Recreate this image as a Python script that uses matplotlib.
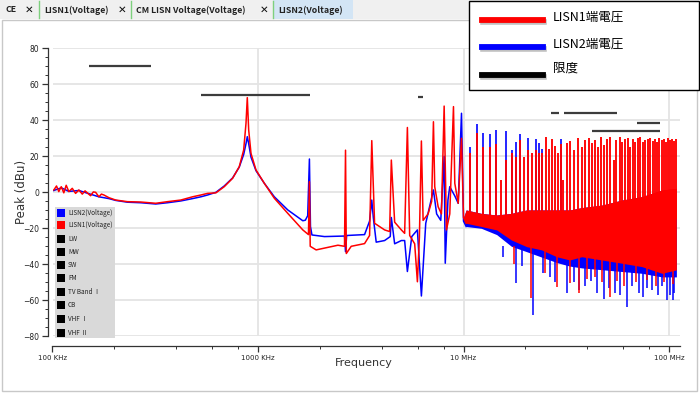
import matplotlib.pyplot as plt
from matplotlib.patches import Rectangle
from matplotlib.lines import Line2D
from matplotlib.ticker import FixedLocator, NullFormatter

# ---- data (frequency in MHz, level in dBu) ----
red_f = [0.1015, 0.1046, 0.1073, 0.1103, 0.1135, 0.1166, 0.1201, 0.1248, 0.1295, 0.1344,
         0.1396, 0.1440, 0.1477, 0.1532, 0.1580, 0.1621, 0.1682, 0.1730, 0.1779, 0.1882,
         0.2029, 0.2314, 0.2688, 0.3180, 0.3627, 0.4211, 0.4803, 0.5272, 0.5683, 0.6240,
         0.6848, 0.7526, 0.8104, 0.8516, 0.8741, 0.8869, 0.9009, 0.9245, 0.9777, 1.0733,
         1.2007, 1.396, 1.652, 1.760, 1.779, 1.795, 1.918, 2.106, 2.448, 2.636,
         2.666, 2.690, 2.842, 3.300, 3.491, 3.578, 3.692, 4.131, 4.370, 4.454,
         4.623, 4.984, 5.171, 5.332, 5.471, 5.786, 5.965, 6.10, 6.238, 6.359,
         6.726, 7.00, 7.139, 7.244, 7.525, 7.809, 8.050, 8.261, 8.573, 8.937,
         9.070, 9.423, 9.777, 10.0, 10.3]
red_db = [1.3, 3.5, 0.4, 3.1, -0.3, 3.9, 0.4, 2.2, -0.6, 1.3,
          -1.0, 0.8, -0.3, -1.9, 0.2, 0.0, -2.5, -1.0, -1.5, -3.0,
          -4.3, -5.2, -5.4, -6.1, -5.2, -4.3, -2.5, -1.5, -0.6, -0.3,
          3.1, 7.8, 14.2, 23.5, 38.3, 52.6, 34.6, 21.6, 12.4, 5.0,
          -3.3, -11.7, -20.9, -23.5, 5.9, -30.0, -32.0, -31.0, -29.4, -30.0,
          23.4, -34.0, -30.0, -28.5, -24.0, 28.7, -17.2, -20.9, -21.8, 17.9,
          -16.6, -20.9, -22.8, 36.0, -24.0, -28.6, -49.7, -25.0, 28.5, -15.6,
          -12.0, -5.0, 39.2, 3.1, -8.0, -12.0, 47.9, -20.9, -12.0, 47.6,
          5.0, -6.1, 30.0, -14.0, -17.2]

blue_f = [0.1015, 0.1103, 0.1201, 0.1344, 0.1477, 0.1682, 0.1882, 0.2029, 0.2314, 0.2688,
          0.3180, 0.3627, 0.4211, 0.4803, 0.5272, 0.5683, 0.6240, 0.6848, 0.7526, 0.8104,
          0.8516, 0.8741, 0.8869, 0.9009, 0.9245, 0.9777, 1.0733, 1.2007, 1.396, 1.652,
          1.700, 1.745, 1.779, 1.800, 1.830, 2.106, 2.636, 2.666, 2.700, 3.300,
          3.491, 3.578, 3.640, 3.760, 4.131, 4.400, 4.454, 4.623, 4.984, 5.171,
          5.332, 5.600, 5.965, 6.238, 6.55, 7.139, 7.40, 7.75, 8.050, 8.15,
          8.40, 8.573, 9.07, 9.423, 9.777, 10.0, 10.3]
blue_db = [1.0, 2.5, 0.5, 1.0, -0.5, -2.5, -3.5, -4.5, -5.5, -5.8,
           -6.5, -5.8, -4.8, -3.5, -2.5, -1.5, 0.0, 3.5, 8.0, 14.0,
           21.0, 27.0, 30.9, 27.0, 19.5, 12.0, 5.0, -2.5, -9.8, -15.8,
           -15.5, -13.0, 18.5, -19.0, -23.7, -24.6, -24.3, -33.0, -24.0, -23.5,
           -16.0, -4.3, -14.0, -27.7, -26.8, -24.6, -14.0, -28.6, -26.8, -26.8,
           -44.0, -24.6, -20.9, -57.6, -17.2, 1.3, -12.0, -15.6, 20.0, -39.4,
           -4.3, 3.1, -2.0, -6.1, 43.9, -16.0, -19.0]

# dense region above 10 MHz: noise band envelopes
band_f = [10.0, 10.3, 12.2, 14.5, 17.1, 20.3, 24.0, 28.4, 32.9, 37.6, 47.1, 59.0, 73.8, 92.4, 108.6]
red_upper = [-14, -9.8, -11.7, -12.6, -11.7, -9.8, -9.8, -9.8, -9.8, -8.5, -7.1, -4.3, -2.4, 1.3, 2.2]
red_lower = [-15, -17.2, -19, -20.9, -26.5, -30.2, -32, -35.8, -37.6, -35.8, -37.6, -39.4, -41.3, -45, -43.1]
blue_lower = [-16, -19, -20, -23.5, -30, -33, -36, -39, -41, -42, -43, -44, -45, -47, -47]

# harmonic spikes
spike_f = [10.73, 11.61, 12.47, 13.39, 14.32, 15.28, 16.08, 17.14, 17.94, 18.76,
           19.62, 20.6, 21.47, 22.45, 23.3, 24.2, 25.1, 26.0, 27.0, 28.0,
           28.9, 29.7, 30.6, 31.8, 33.0, 34.3, 36.0, 37.6, 39.1, 40.6,
           42.1, 43.7, 45.0, 46.6, 48.3, 49.8, 51.8, 53.7, 55.3, 57.5,
           59.0, 61.2, 63.1, 64.8, 66.7, 68.5, 70.6, 72.5, 74.7, 76.6,
           78.7, 81.1, 83.2, 85.5, 87.4, 89.7, 92.1, 94.2, 96.6, 98.8,
           101.4, 103.7, 106.1, 108.6]
spike_red = [21.6, 32.7, 25.0, 25.0, 27.0, 6.8, 17.9, 21.6, 19.8, 29.0,
             19.8, 23.5, 22.0, 23.5, 21.6, 22.0, 30.5, 24.0, 29.7, 25.7,
             22.0, 27.0, 6.8, 27.2, 28.4, 23.5, 30.2, 25.4, 29.1, 30.0,
             27.2, 29.1, 25.4, 30.5, 26.3, 29.4, 30.5, 17.9, 29.1, 30.5,
             28.1, 29.4, 30.0, 25.4, 29.4, 28.1, 30.0, 30.5, 28.1, 29.1,
             29.4, 30.0, 28.7, 29.4, 28.1, 30.0, 29.1, 29.4, 28.1, 30.0,
             29.1, 29.4, 28.7, 29.4]
blue_spike_f = [10.73, 11.61, 12.47, 13.39, 14.32, 16.08, 17.14, 17.94, 18.76, 20.6,
                22.45, 23.3, 24.2, 29.7]
blue_spike_db = [25.3, 37.9, 32.8, 32.4, 34.6, 34.2, 23.5, 28.1, 32.4, 30.0,
                 29.4, 27.2, 23.9, 29.4]

red_dip_f = [17.6, 21.2, 25.0, 28.4, 33.0, 36.3, 40.0, 43.7, 47.0, 51.7,
             56.0, 60.5, 69.0, 78.1, 86.0, 95.0, 104.5]
red_dip_db = [-40.0, -58.7, -45.0, -52.4, -50.5, -56.1, -48.0, -46.8, -50.0, -57.9,
              -49.0, -52.0, -50.0, -48.7, -52.0, -50.0, -51.0]
blue_dip_f = [15.5, 18.1, 19.2, 21.9, 24.5, 26.5, 28.0, 31.8, 34.5, 36.5,
              39.1, 41.5, 44.5, 48.0, 51.0, 54.7, 58.0, 62.8, 66.0, 71.1,
              75.0, 78.5, 82.7, 88.0, 92.5, 97.7, 101.0, 104.0, 106.0]
blue_dip_db = [-36.0, -50.4, -41.0, -68.0, -44.8, -47.0, -50.0, -55.9, -50.0, -54.0,
               -52.0, -49.0, -56.0, -59.4, -53.0, -55.9, -57.0, -63.5, -52.0, -55.9,
               -58.0, -53.0, -54.0, -57.0, -52.0, -59.8, -57.0, -60.0, -55.9]

# limit lines (start MHz, stop MHz, level)
lim_start = [0.150, 0.530, 6.0, 26.6, 30.7, 42.0, 69.8]
lim_stop = [0.300, 1.80, 6.35, 29.0, 55.7, 90.0, 90.0]
lim_level = [70, 54, 53, 44.2, 44.2, 34.2, 38.7]

tick_pos = [0.1, 1, 10, 100]
tick_lab = ['100 KHz', '1000 KHz', '10 MHz', '100 MHz']
band_names = ['LISN2(Voltage)', 'LISN1(Voltage)', 'LW', 'MW', 'SW', 'FM',
              'TV Band \u2160', 'CB', 'VHF \u2160', 'VHF \u2161']
band_cols = ['#0000ff', '#ff0000'] + ['#000000'] * 8

W, H = 700, 395


def fx(x):
    return x / W


def fy(y):
    return 1 - y / H


fig = plt.figure(figsize=(7, 3.95), dpi=100)
fig.patch.set_facecolor('white')

# outer frame and tab bar
fig.patches.append(Rectangle((fx(2), fy(391)), fx(695), 371 / H, transform=fig.transFigure,
                             facecolor='none', edgecolor='#c8c8c8', lw=1))
fig.patches.append(Rectangle((0, fy(19)), 1, 19 / H, transform=fig.transFigure,
                             facecolor='#f0f0f0', edgecolor='none'))
fig.patches.append(Rectangle((fx(273), fy(19)), fx(80), 19 / H, transform=fig.transFigure,
                             facecolor='#d3e5f5', edgecolor='none'))
for sx in [39, 131, 273]:
    fig.lines.append(Line2D([fx(sx), fx(sx)], [fy(1), fy(18)], transform=fig.transFigure,
                            color='#7ed07e', lw=1))
tabfont = ['Noto Sans CJK JP', 'DejaVu Sans']
for tx, tt in [(6, 'CE'), (44, 'LISN1(Voltage)'), (136, 'CM LISN Voltage(Voltage)'),
               (278, 'LISN2(Voltage)')]:
    fig.text(fx(tx), fy(10), tt, fontsize=6.3, fontweight='bold', family=tabfont,
             va='center', ha='left', color='#222222')
for tx in [29, 122, 264]:
    fig.text(fx(tx), fy(10), '\u2715', fontsize=7.5, fontweight='bold', family='DejaVu Sans',
             va='center', ha='center', color='#111111')

# main axes
ax = fig.add_axes([fx(52.5), fy(336.3), 627.5 / W, 288 / H])
ax.set_xscale('log')
ax.set_xlim(0.1, 113.1)
ax.set_ylim(-80, 80)

ax.plot(blue_f, blue_db, color='#0000ff', lw=1.1, zorder=3)
ax.fill_between(band_f, blue_lower, red_upper, color='#0000ff', lw=0, zorder=3)
ax.vlines(blue_spike_f, -15, blue_spike_db, color='#0000ff', lw=1.2, zorder=3)
ax.vlines(blue_dip_f, blue_dip_db, -30, color='#0000ff', lw=1.1, zorder=3)

ax.plot(red_f, red_db, color='#ff0000', lw=1.1, zorder=4)
ax.fill_between(band_f, red_lower, red_upper, color='#ff0000', lw=0, zorder=4)
ax.vlines(spike_f, -15, spike_red, color='#ff0000', lw=1.35, zorder=4)
ax.vlines(red_dip_f, red_dip_db, -30, color='#ff0000', lw=1.1, zorder=4)

ax.hlines(lim_level, lim_start, lim_stop, color='#3c3c3c', lw=1.6, zorder=5)

ax.xaxis.set_major_locator(FixedLocator(tick_pos))
ax.set_xticklabels(tick_lab)
ax.xaxis.set_minor_locator(FixedLocator([m * d for d in [0.1, 1, 10] for m in [2, 4, 6, 8]]))
ax.xaxis.set_minor_formatter(NullFormatter())
ax.set_yticks(range(-80, 81, 20))
ax.yaxis.set_minor_locator(FixedLocator(range(-80, 81, 5)))

ax.grid(which='major', color='#e4e4e4', lw=1.3, zorder=0)
ax.set_axisbelow(True)
for s in ['top', 'right']:
    ax.spines[s].set_visible(False)
ax.spines['left'].set_position(('outward', 3.6))
ax.spines['bottom'].set_position(('outward', 7.2))
for s in ['left', 'bottom']:
    ax.spines[s].set_color('#333333')
    ax.spines[s].set_linewidth(0.9)
ax.tick_params(which='major', length=4, width=0.9, color='#333333', labelsize=5,
               labelcolor='#222222', pad=2)
ax.tick_params(which='minor', length=2, width=0.7, color='#333333')
ax.tick_params(axis='y', labelsize=5.5)

fig.text(fx(21), fy(192), 'Peak (dBu)', rotation=90, fontsize=8.5, color='#333333',
         ha='center', va='center')
fig.text(fx(364), fy(363), 'Frequency', fontsize=8, color='#333333', ha='center', va='center')

# band legend panel
fig.patches.append(Rectangle((fx(54.5), fy(338)), 60.5 / W, 131 / H, transform=fig.transFigure,
                             facecolor='#d9d9d9', edgecolor='none', zorder=6))
row_y = [212.7, 225, 239, 251.7, 265, 278.3, 291.7, 305, 319, 332.7]
for ry, nm, col in zip(row_y, band_names, band_cols):
    fig.patches.append(Rectangle((fx(57), fy(ry + 4)), 8 / W, 8 / H, transform=fig.transFigure,
                                 facecolor=col, edgecolor='none', zorder=7))
    fig.text(fx(68), fy(ry), nm, fontsize=4.6, color='#222222', va='center', ha='left',
             family=tabfont, zorder=7)

# series legend, top right
fig.patches.append(Rectangle((fx(469), fy(90)), 230 / W, 89 / H, transform=fig.transFigure,
                             facecolor='white', edgecolor='black', lw=1, zorder=8))
for ly, ty, col, txt in [(20, 17, '#ff0000', 'LISN1端電圧'), (47, 44, '#0000ff', 'LISN2端電圧'),
                         (75, 68, '#000000', '限度')]:
    fig.lines.append(Line2D([fx(483), fx(544)], [fy(ly + 2), fy(ly + 2)], transform=fig.transFigure,
                            color='#c0c0c0', lw=4, zorder=9))
    fig.lines.append(Line2D([fx(482), fx(543)], [fy(ly), fy(ly)], transform=fig.transFigure,
                            color=col, lw=4.2, zorder=10))
    fig.text(fx(553), fy(ty), txt, fontsize=9, family=tabfont, color='black',
             va='center', ha='left', zorder=10)

fig.savefig('out.png', dpi=100)
